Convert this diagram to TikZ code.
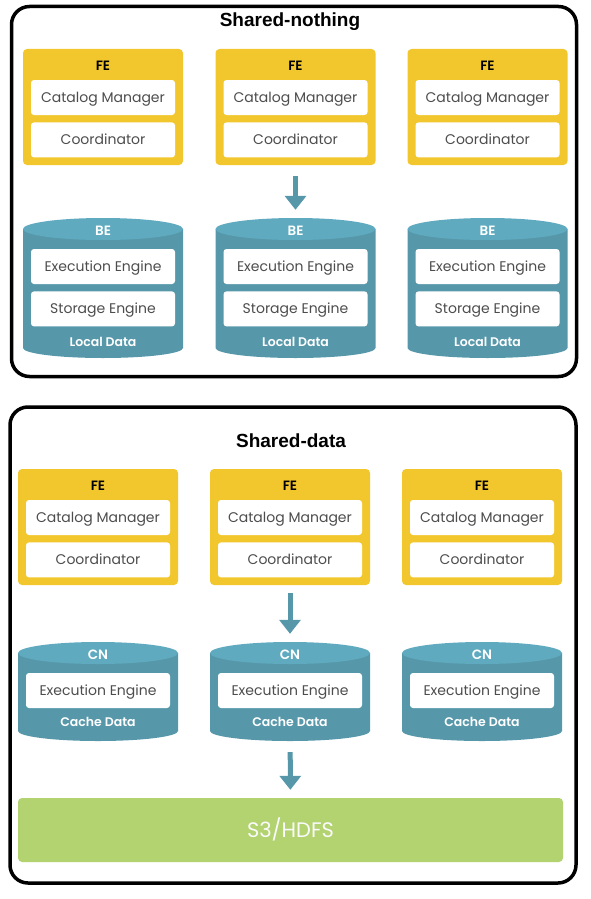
\documentclass[tikz,border=0pt]{standalone}
\usepackage{fontspec}
\setmainfont{Poppins}[BoldFont={Poppins SemiBold}]
\newfontfamily\headfont{Liberation Sans}
\usetikzlibrary{shapes.geometric, arrows.meta, positioning}
\definecolor{FEYellow}{HTML}{F2C72E}
\definecolor{NodeTealTop}{HTML}{5FAABF}
\definecolor{NodeTeal}{HTML}{5698AA}
\definecolor{StoreGreen}{HTML}{B2D36F}
\definecolor{TextGray}{HTML}{4D4D4D}
\tikzset{
  % Box styles
  panelbox/.style={rectangle, rounded corners=18pt, draw=black, line width=3.5pt, fill=white},
  febox/.style={rectangle, rounded corners=4pt, fill=FEYellow, minimum width=160pt, minimum height=116pt},
  innerbox/.style={rectangle, rounded corners=3pt, fill=white, minimum width=144pt, minimum height=35pt, inner sep=0pt, text height=10pt, text depth=0pt, font=\fontsize{14}{16}\selectfont, text=TextGray},
  dbnode/.style={rectangle, minimum width=160pt, inner sep=0pt,
    path picture={
      \fill[NodeTeal] ([yshift=-11pt]path picture bounding box.north west)
        -- ([yshift=10pt]path picture bounding box.south west)
        arc[start angle=180, end angle=360, x radius=80pt, y radius=10pt]
        -- ([yshift=-11pt]path picture bounding box.north east) -- cycle;
      \fill[NodeTealTop] ([yshift=-11pt]path picture bounding box.north) ellipse[x radius=80pt, y radius=11pt];
    }},
  storebox/.style={rectangle, rounded corners=4pt, fill=StoreGreen, minimum width=545pt, minimum height=64pt, text height=15pt, text depth=0pt, font=\fontsize{21}{24}\selectfont, text=white!96!gray},
  % Text styles
  paneltitle/.style={font=\headfont\bfseries\fontsize{19}{22}\selectfont},
  felabel/.style={inner sep=0pt, font=\bfseries\fontsize{13.5}{15}\selectfont, text=black},
  dblabel/.style={inner sep=0pt, font=\bfseries\fontsize{13.5}{15}\selectfont, text=white},
  datalabel/.style={inner sep=0pt, font=\bfseries\fontsize{12.5}{14}\selectfont, text=white},
  % Arrow styles
  flowarrow/.style={-{Triangle[width=21pt,length=14pt]}, line width=5pt, NodeTeal}
}
\begin{document}
\begin{tikzpicture}[x=1pt, y=-1pt]
  \useasboundingbox (0,0) rectangle (591,899);

  % Shared-nothing
  \node[panelbox, minimum width=565pt, minimum height=370pt] (nothing) at (294,191.5) {};
  \node[paneltitle] (nothingtitle) at (290,22) {Shared-nothing};
  \foreach \i/\x in {1/103, 2/295.5, 3/487.5} {
    \node[febox] (fe\i) at (\x,107) {};
    \node[felabel, below=12pt of fe\i.north] (felabel\i) {FE};
    \node[innerbox, below=31pt of fe\i.north] (catalog\i) {Catalog Manager};
    \node[innerbox, below=7pt of catalog\i] (coord\i) {Coordinator};
    \node[dbnode, minimum height=140pt] (be\i) at (\x,288) {};
    \node[dblabel, below=8pt of be\i.north] (belabel\i) {BE};
    \node[innerbox, below=31pt of be\i.north] (exec\i) {Execution Engine};
    \node[innerbox, below=7pt of exec\i] (storage\i) {Storage Engine};
    \node[datalabel, below=10pt of storage\i] (local\i) {Local Data};
  }
  \draw[flowarrow, shorten <=11pt, shorten >=8pt] (fe2) -- (be2);

  % Shared-data
  \node[panelbox, minimum width=566pt, minimum height=476pt] (data) at (293,645) {};
  \node[paneltitle] (datatitle) at (291,441) {Shared-data};
  \foreach \i/\x in {1/98, 2/290, 3/482} {
    \node[febox] (sfe\i) at (\x,527) {};
    \node[felabel, below=12pt of sfe\i.north] (sfelabel\i) {FE};
    \node[innerbox, below=31pt of sfe\i.north] (scatalog\i) {Catalog Manager};
    \node[innerbox, below=7pt of scatalog\i] (scoord\i) {Coordinator};
    \node[dbnode, minimum height=99pt] (cn\i) at (\x,691.5) {};
    \node[dblabel, below=8pt of cn\i.north] (cnlabel\i) {CN};
    \node[innerbox, below=31pt of cn\i.north] (sexec\i) {Execution Engine};
    \node[datalabel, below=9pt of sexec\i] (cache\i) {Cache Data};
  }
  \node[storebox] (s3) at (290.5,830) {S3/HDFS};
  \draw[flowarrow, shorten <=8pt, shorten >=8pt] (sfe2) -- (cn2);
  \draw[flowarrow, shorten <=11pt, shorten >=8pt] (cn2) -- (s3);
\end{tikzpicture}
\end{document}
